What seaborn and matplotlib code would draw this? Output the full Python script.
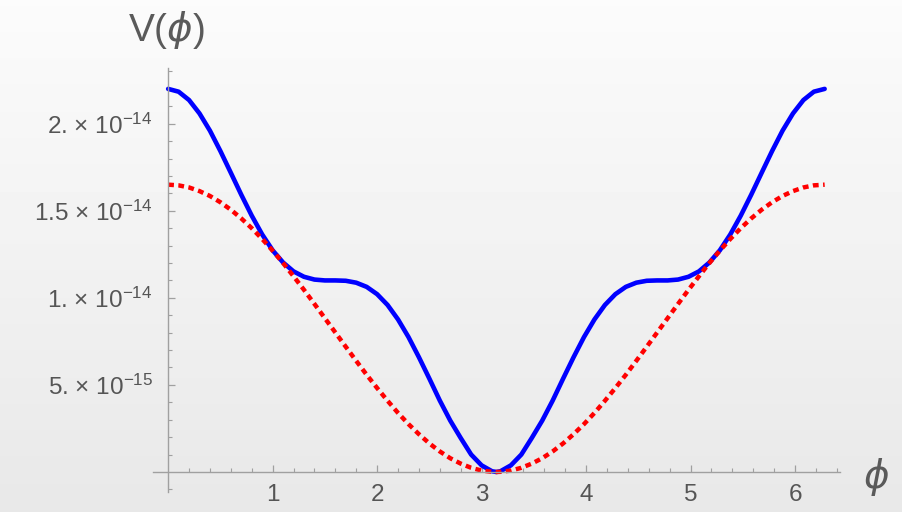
import numpy as np
import pandas as pd
import matplotlib
matplotlib.use("Agg")
import matplotlib.pyplot as plt
import seaborn as sns

# phi samples (left half 0..pi, right half pi..2pi)
phi_left = [0.0, 0.1, 0.2, 0.3, 0.4, 0.5, 0.6, 0.7, 0.8, 0.9, 1.0, 1.1, 1.2, 1.3, 1.4, 1.5,
            1.6, 1.7, 1.8, 1.9, 2.0, 2.1, 2.2, 2.3, 2.4, 2.5, 2.6, 2.7, 2.8, 2.9, 3.0, 3.1, 3.1416]
phi_right = [3.18, 3.28, 3.38, 3.48, 3.58, 3.68, 3.78, 3.88, 3.98, 4.08, 4.18, 4.28, 4.38, 4.48,
             4.58, 4.68, 4.78, 4.88, 4.98, 5.08, 5.18, 5.28, 5.38, 5.48, 5.58, 5.68, 5.78, 5.88,
             5.98, 6.08, 6.18, 6.2832]

# potential values in units of 1e-15
blue_left = [22.0, 21.84, 21.36, 20.59, 19.6, 18.43, 17.18, 15.92, 14.72, 13.64, 12.73, 12.03,
             11.52, 11.21, 11.05, 11.0, 11.0, 10.98, 10.87, 10.63, 10.21, 9.59, 8.76, 7.75, 6.59,
             5.36, 4.1, 2.95, 1.95, 1.0, 0.38, 0.04, 0.0]
blue_right = [0.04, 0.38, 1.0, 1.95, 2.95, 4.1, 5.36, 6.59, 7.75, 8.76, 9.59, 10.21, 10.63,
              10.87, 10.98, 11.0, 11.0, 11.05, 11.21, 11.52, 12.03, 12.73, 13.64, 14.72, 15.92,
              17.18, 18.43, 19.6, 20.59, 21.36, 21.84, 22.0]
red_left = [16.5, 16.46, 16.34, 16.13, 15.85, 15.49, 15.06, 14.56, 14.0, 13.38, 12.71, 12.0,
            11.24, 10.46, 9.65, 8.83, 8.01, 7.19, 6.38, 5.58, 4.82, 4.09, 3.39, 2.75, 2.17, 1.64,
            1.18, 0.79, 0.48, 0.24, 0.08, 0.01, 0.0]
red_right = [0.01, 0.08, 0.24, 0.48, 0.79, 1.18, 1.64, 2.17, 2.75, 3.39, 4.09, 4.82, 5.58, 6.38,
             7.19, 8.01, 8.83, 9.65, 10.46, 11.24, 12.0, 12.71, 13.38, 14.0, 14.56, 15.06, 15.49,
             15.85, 16.13, 16.34, 16.46, 16.5]

y_ticks = [5e-15, 1e-14, 1.5e-14, 2e-14]
y_labels = ["5. × 10$^{-15}$", "1. × 10$^{-14}$", "1.5 × 10$^{-14}$", "2. × 10$^{-14}$"]
x_ticks = [1, 2, 3, 4, 5, 6]

df = pd.DataFrame({
    "phi": phi_left + phi_right,
    "blue": np.array(blue_left + blue_right) * 1e-15,
    "red": np.array(red_left + red_right) * 1e-15,
})

sns.set_style("white")
plt.rcParams["font.family"] = ["Liberation Sans", "DejaVu Sans"]
plt.rcParams["mathtext.fontset"] = "dejavusans"
plt.rcParams["mathtext.default"] = "regular"

fig = plt.figure(figsize=(9.02, 5.12), dpi=100)

# soft grey gradient background
bg = fig.add_axes([0, 0, 1, 1], zorder=-10)
grad = np.linspace(0.985, 0.91, 256).reshape(-1, 1)
bg.imshow(grad, aspect="auto", cmap="gray", vmin=0, vmax=1, extent=[0, 1, 0, 1])
bg.axis("off")

ax = fig.add_axes([153 / 902, 1 - 492 / 512, (840 - 153) / 902, (492 - 68) / 512])
ax.patch.set_alpha(0)

sns.lineplot(data=df, x="phi", y="blue", ax=ax, color="#0000ff", linewidth=3.3,
             estimator=None, sort=False, solid_capstyle="round", solid_joinstyle="round")
sns.lineplot(data=df, x="phi", y="red", ax=ax, color="#ff0000", linewidth=3.2,
             estimator=None, sort=False, linestyle=(0, (1.3, 1.0)), dash_capstyle="butt")

ax.set_xlim(-0.145, 6.43)
ax.set_ylim(-1.15e-15, 23.2e-15)

for s in ["top", "right"]:
    ax.spines[s].set_visible(False)
ax.spines["left"].set_position(("data", 0))
ax.spines["bottom"].set_position(("data", 0))
for s in ["left", "bottom"]:
    ax.spines[s].set_color("#a0a0a0")
    ax.spines[s].set_linewidth(1.0)

ax.set_xticks(x_ticks)
ax.set_xticks([v / 5 for v in range(1, 33) if v % 5 != 0], minor=True)
ax.set_yticks(y_ticks)
ax.set_yticklabels(y_labels)
ax.set_yticks([v * 1e-15 for v in range(-1, 24) if v % 5 != 0 and v != 0], minor=True)

ax.tick_params(axis="both", which="both", bottom=True, left=True, top=False, right=False)
ax.tick_params(axis="both", which="major", direction="in", length=5, width=0.9,
               color="#a0a0a0", labelcolor="#555555", labelsize=17.5)
ax.tick_params(axis="both", which="minor", direction="in", length=3, width=0.8,
               color="#a0a0a0")
ax.tick_params(axis="x", which="major", pad=9)
ax.tick_params(axis="y", which="major", pad=11)
ax.set_xlabel("")
ax.set_ylabel("")

fig.text(167 / 902, 1 - 30 / 512, r"V($\mathit{\phi}$)", fontsize=28, color="#5a5a5a",
         ha="center", va="center")
fig.text(876 / 902, 1 - 477 / 512, r"$\mathit{\phi}$", fontsize=28, color="#5a5a5a",
         ha="center", va="center")

fig.savefig("out.png", dpi=100)
